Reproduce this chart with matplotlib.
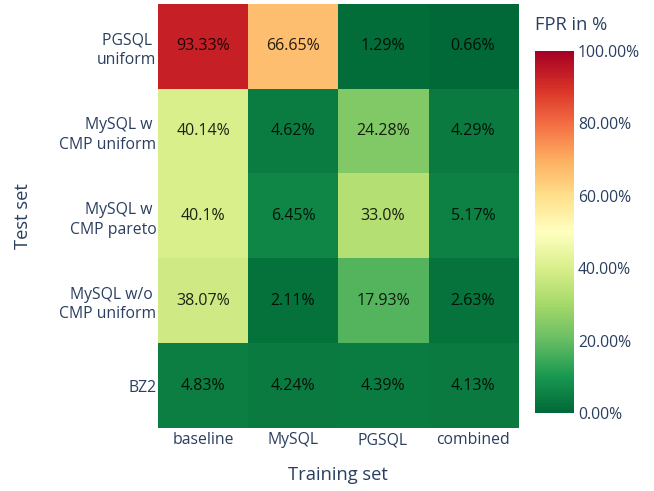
import numpy as np
import matplotlib.pyplot as plt
from matplotlib.colors import LinearSegmentedColormap

training = ["baseline", "MySQL", "PGSQL", "combined"]
test = ["PGSQL \nuniform", "MySQL w \nCMP uniform", "MySQL w \nCMP pareto",
        "MySQL w/o \nCMP uniform", "BZ2"]

fpr = np.array([
    [0.9333, 0.6665, 0.0129, 0.0066],
    [0.4014, 0.0462, 0.2428, 0.0429],
    [0.4010, 0.0645, 0.3300, 0.0517],
    [0.3807, 0.0211, 0.1793, 0.0263],
    [0.0483, 0.0424, 0.0439, 0.0413],
])
labels = [
    ["93.33%", "66.65%", "1.29%", "0.66%"],
    ["40.14%", "4.62%", "24.28%", "4.29%"],
    ["40.1%", "6.45%", "33.0%", "5.17%"],
    ["38.07%", "2.11%", "17.93%", "2.63%"],
    ["4.83%", "4.24%", "4.39%", "4.13%"],
]

# plotly RdYlGn, reversed
rdylgn = ['#a50026', '#d73027', '#f46d43', '#fdae61', '#fee08b', '#ffffbf',
          '#d9ef8b', '#a6d96a', '#66bd63', '#1a9850', '#006837']
cmap = LinearSegmentedColormap.from_list("rdylgn_r", rdylgn[::-1])

txt = '#2a3f5f'
plt.rcParams['font.family'] = ['Open Sans', 'DejaVu Sans']

fig = plt.figure(figsize=(6.54, 4.91), dpi=100)
ax = fig.add_axes([0.2416, 0.1283, 0.5505, 0.8635])
im = ax.imshow(fpr, cmap=cmap, vmin=0, vmax=1, aspect='auto')

for i in range(len(test)):
    for j in range(len(training)):
        ax.text(j, i, labels[i][j], ha='center', va='center', fontsize=11.5,
                color='black', alpha=0.85)

ax.set_xticks(range(len(training)))
ax.set_xticklabels(training, fontsize=11.3, color=txt)
ax.set_yticks(range(len(test)))
ax.set_yticklabels(test, fontsize=11.3, color=txt, linespacing=1.3)
ax.tick_params(axis='y', length=0, pad=1)
ax.tick_params(axis='x', length=0, pad=3)
for s in ax.spines.values():
    s.set_visible(False)
ax.set_xlabel("Training set", fontsize=13.2, color=txt, labelpad=13)
ax.set_ylabel("Test set", fontsize=13.2, color=txt, labelpad=20)

cax = fig.add_axes([0.818, 0.1589, 0.0596, 0.737])
cb = fig.colorbar(im, cax=cax)
cb.outline.set_visible(False)
cb.set_ticks([0, 0.2, 0.4, 0.6, 0.8, 1.0])
cb.set_ticklabels(["0.00%", "20.00%", "40.00%", "60.00%", "80.00%", "100.00%"])
cax.tick_params(length=0, labelsize=11.3, labelcolor=txt, pad=3)
fig.text(0.818, 0.93, "FPR in %", fontsize=13.2, color=txt, ha='left', va='bottom')

fig.savefig("out.png", dpi=100)
